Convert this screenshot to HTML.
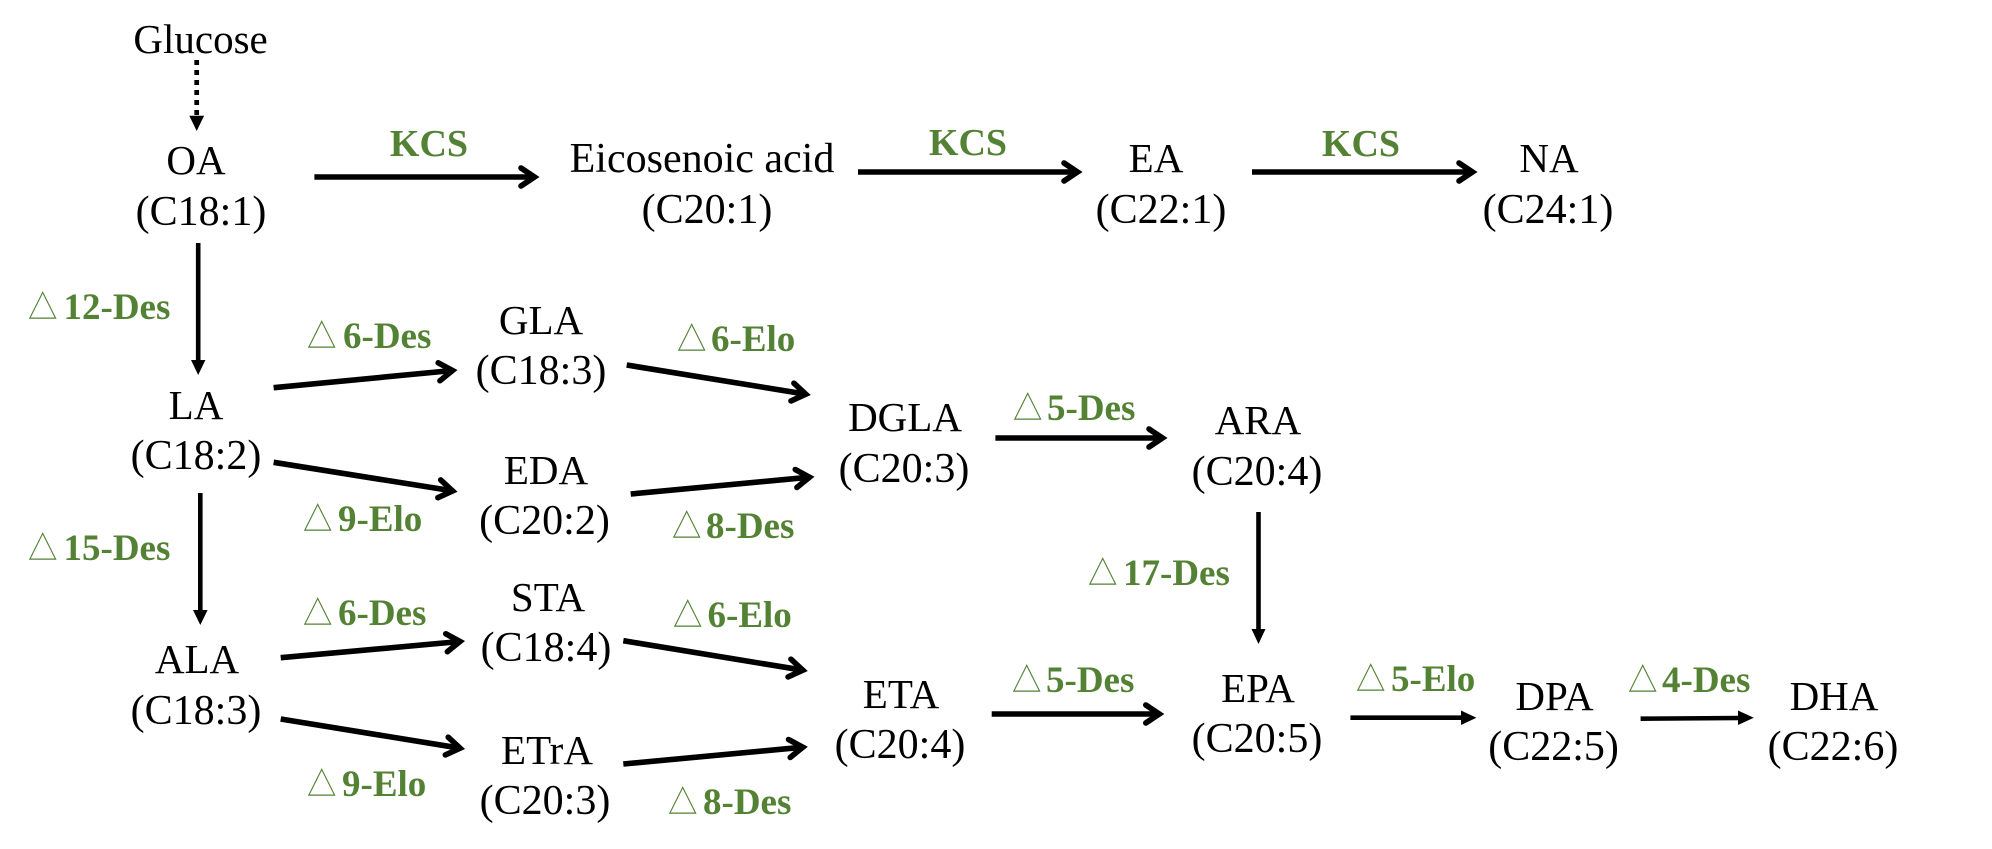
<!DOCTYPE html>
<html lang="en">
<head>
<meta charset="utf-8">
<title>Fatty acid biosynthesis pathway</title>
<style>
html,body{margin:0;padding:0;background:#fff;width:1992px;height:849px;overflow:hidden}
svg{display:block}
.n{font-family:"Liberation Serif",serif;font-size:41px;fill:#000;text-anchor:middle}
.f{font-family:"Liberation Serif",serif;font-size:42px;fill:#000;text-anchor:middle}
.g{font-family:"Liberation Serif",serif;font-weight:bold;font-size:37px;fill:#548235}
.k{font-family:"Liberation Serif",serif;font-weight:bold;font-size:38px;fill:#548235;text-anchor:middle}
.t{font-family:"Noto Sans CJK SC",sans-serif;font-size:31px;fill:#548235;transform-box:fill-box;transform-origin:left bottom;transform:scale(.95,1.08)}
.a{stroke:#000;stroke-width:5.6;fill:none}
.v{stroke:#000;stroke-width:4.6;fill:none}
</style>
</head>
<body>
<svg width="1992" height="849" viewBox="0 0 1992 849" xmlns="http://www.w3.org/2000/svg">
<defs>
<marker id="c" markerUnits="userSpaceOnUse" orient="auto" markerWidth="30" markerHeight="30" refX="0" refY="0" overflow="visible" viewBox="-20 -15 30 30">
<path d="M-13.5 -9L0 0L-13.5 9" fill="none" stroke="#000" stroke-width="5.6" stroke-linecap="round" stroke-miterlimit="10"/>
</marker>
</defs>

<!-- dotted -->
<line x1="196.7" y1="60" x2="196.7" y2="116" stroke="#000" stroke-width="4.7" stroke-dasharray="5 5"/>
<polygon points="189.3,115.7 204.1,115.7 196.7,131" fill="#000"/>

<!-- vertical arrows -->
<line class="v" x1="198.2" y1="243" x2="198.2" y2="362"/><polygon points="191,360 205.4,360 198.2,375" fill="#000"/>
<line class="v" x1="200.3" y1="493" x2="200.3" y2="612"/><polygon points="193,610 207.6,610 200.3,625" fill="#000"/>
<line class="v" x1="1258.5" y1="512" x2="1258.5" y2="631"/><polygon points="1251.5,629 1265.5,629 1258.5,644" fill="#000"/>

<!-- chevron arrows -->
<line class="a" marker-end="url(#c)" x1="314.4" y1="177" x2="534.5" y2="177"/>
<line class="a" marker-end="url(#c)" x1="858" y1="172" x2="1077.5" y2="172"/>
<line class="a" marker-end="url(#c)" x1="1252" y1="172" x2="1472.5" y2="172"/>
<line class="a" marker-end="url(#c)" x1="273.6" y1="387.7" x2="452.5" y2="370.5"/>
<line class="a" marker-end="url(#c)" x1="273.6" y1="462.3" x2="452.6" y2="490.9"/>
<line class="a" marker-end="url(#c)" x1="280.7" y1="657.7" x2="460" y2="641.5"/>
<line class="a" marker-end="url(#c)" x1="280.7" y1="719" x2="460.1" y2="748.2"/>
<line class="a" marker-end="url(#c)" x1="626.7" y1="365" x2="805.8" y2="394.2"/>
<line class="a" marker-end="url(#c)" x1="630.7" y1="494" x2="809.5" y2="477.2"/>
<line class="a" marker-end="url(#c)" x1="623.3" y1="640.7" x2="802.8" y2="670.2"/>
<line class="a" marker-end="url(#c)" x1="623.3" y1="764" x2="802.8" y2="747.2"/>
<line class="a" marker-end="url(#c)" x1="995.4" y1="438" x2="1162.5" y2="438"/>
<line class="a" marker-end="url(#c)" x1="991.7" y1="714" x2="1159.3" y2="714"/>

<!-- filled-head horizontal arrows -->
<line class="v" x1="1350.4" y1="717.7" x2="1463" y2="717.7"/><polygon points="1461,710.5 1461,725 1476.4,717.7" fill="#000"/>
<line class="v" x1="1640.6" y1="718.7" x2="1740" y2="718"/><polygon points="1738,710.5 1738,725 1753.8,717.7" fill="#000"/>

<!-- node labels -->
<text class="n" x="200.6" y="53">Glucose</text>
<text class="n" x="196" y="174">OA</text><text class="f" x="201" y="225">(C18:1)</text>
<text class="n" x="196" y="419">LA</text><text class="f" x="196" y="469">(C18:2)</text>
<text class="n" x="197" y="673">ALA</text><text class="f" x="196" y="724">(C18:3)</text>
<text class="n" x="541" y="334">GLA</text><text class="f" x="541" y="384">(C18:3)</text>
<text class="n" x="546" y="484">EDA</text><text class="f" x="544.5" y="534">(C20:2)</text>
<text class="n" x="548" y="611">STA</text><text class="f" x="546" y="661">(C18:4)</text>
<text class="n" x="547" y="764">ETrA</text><text class="f" x="545" y="814">(C20:3)</text>
<text class="f" x="702" y="172">Eicosenoic acid</text><text class="f" x="707" y="223">(C20:1)</text>
<text class="n" x="1156" y="172">EA</text><text class="f" x="1161" y="223">(C22:1)</text>
<text class="n" x="1549" y="172">NA</text><text class="f" x="1548" y="223">(C24:1)</text>
<text class="n" x="905" y="431">DGLA</text><text class="f" x="904" y="482">(C20:3)</text>
<text class="n" x="1258" y="434">ARA</text><text class="f" x="1257" y="485">(C20:4)</text>
<text class="n" x="901" y="708">ETA</text><text class="f" x="900" y="758">(C20:4)</text>
<text class="n" x="1258" y="702">EPA</text><text class="f" x="1257" y="752">(C20:5)</text>
<text class="n" x="1554.5" y="710">DPA</text><text class="f" x="1553.6" y="760">(C22:5)</text>
<text class="n" x="1834" y="710">DHA</text><text class="f" x="1833" y="760">(C22:6)</text>

<!-- KCS -->
<text class="k" x="429" y="156">KCS</text>
<text class="k" x="968" y="155">KCS</text>
<text class="k" x="1361" y="156">KCS</text>

<!-- enzyme labels -->
<text class="t" x="28" y="320">△</text><text class="g" x="63.5" y="319">12-Des</text>
<text class="t" x="307" y="349">△</text><text class="g" x="343" y="348">6-Des</text>
<text class="t" x="28" y="561">△</text><text class="g" x="63.5" y="560">15-Des</text>
<text class="t" x="303" y="532">△</text><text class="g" x="338" y="531">9-Elo</text>
<text class="t" x="303" y="626">△</text><text class="g" x="338" y="625">6-Des</text>
<text class="t" x="307" y="797">△</text><text class="g" x="342" y="796">9-Elo</text>
<text class="t" x="677" y="352">△</text><text class="g" x="711" y="351">6-Elo</text>
<text class="t" x="1013" y="421">△</text><text class="g" x="1047" y="420">5-Des</text>
<text class="t" x="672" y="539">△</text><text class="g" x="706" y="538">8-Des</text>
<text class="t" x="1088" y="586">△</text><text class="g" x="1123" y="585">17-Des</text>
<text class="t" x="673" y="628">△</text><text class="g" x="707.5" y="627">6-Elo</text>
<text class="t" x="1012" y="693">△</text><text class="g" x="1046" y="692">5-Des</text>
<text class="t" x="668" y="815">△</text><text class="g" x="703" y="814">8-Des</text>
<text class="t" x="1356" y="692">△</text><text class="g" x="1391" y="691">5-Elo</text>
<text class="t" x="1628" y="693">△</text><text class="g" x="1662" y="692">4-Des</text>
</svg>
</body>
</html>
